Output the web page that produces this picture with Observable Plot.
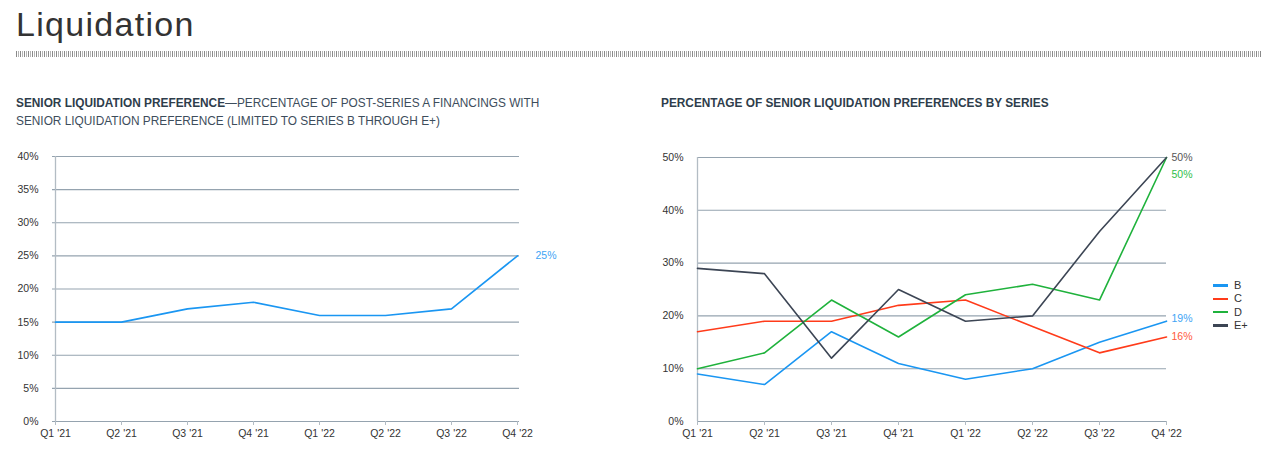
<!DOCTYPE html>
<html>
<head>
<meta charset="utf-8">
<script src="https://cdn.jsdelivr.net/npm/d3@7"></script>
<script src="https://cdn.jsdelivr.net/npm/@observablehq/plot@0.6"></script>
<style>
  body { margin: 0; background: #fff; font-family: "Liberation Sans", Arial, Helvetica, sans-serif; }
  #page { position: relative; width: 1280px; height: 476px; overflow: hidden; }
  #title { position: absolute; left: 16px; top: 5px; font-size: 34px; letter-spacing: 1.3px; color: #333; font-weight: 400; }
  #rule { position: absolute; left: 16px; top: 51px; width: 1246px; height: 6px;
          background: repeating-linear-gradient(90deg, #8a8a8a 0 1px, #fff 1px 2px, #b5b5b5 2px 3px, #fff 3px 4px); }
  .sub { position: absolute; font-size: 11.85px; color: #3d4d5c; line-height: 18px; }
  .sub b { font-weight: 700; color: #2e3d4b; }
  #sub1 { left: 16px; top: 94px; }
  #sub2 { left: 661px; top: 94px; }
  #c1 { position: absolute; left: 0; top: 140px; }
  #c2 { position: absolute; left: 640px; top: 140px; }
  #legend { position: absolute; left: 1213px; top: 279px; font-size: 11px; color: #333; }
  #legend div { height: 13.3px; line-height: 13.3px; display: flex; align-items: center; }
  #legend span.sw { display: inline-block; width: 15px; height: 2.5px; margin-right: 6px; }
</style>
</head>
<body>
<div id="page">
  <div id="title">Liquidation</div>
  <div id="rule"></div>
  <div class="sub" id="sub1"><b>SENIOR LIQUIDATION PREFERENCE</b>—PERCENTAGE OF POST-SERIES A FINANCINGS WITH<br>SENIOR LIQUIDATION PREFERENCE (LIMITED TO SERIES B THROUGH E+)</div>
  <div class="sub" id="sub2"><b>PERCENTAGE OF SENIOR LIQUIDATION PREFERENCES BY SERIES</b></div>
  <div id="c1"></div>
  <div id="c2"></div>
  <div id="legend"></div>
</div>
<script>
const quarters = ["Q1 '21", "Q2 '21", "Q3 '21", "Q4 '21", "Q1 '22", "Q2 '22", "Q3 '22", "Q4 '22"];
const seniorPct = [15, 15, 17, 18, 16, 16, 17, 25];
const seriesNames = ["B", "C", "D", "E+"];
const seriesB = [9, 7, 17, 11, 8, 10, 15, 19];
const seriesC = [17, 19, 19, 22, 23, 18, 13, 16];
const seriesD = [10, 13, 23, 16, 24, 26, 23, 50];
const seriesE = [29, 28, 12, 25, 19, 20, 36, 50];
const seriesColors = ["#1a96f2", "#ff3b1a", "#1fb23c", "#3c4554"];
const leftTicks = [0, 5, 10, 15, 20, 25, 30, 35, 40];
const rightTicks = [0, 10, 20, 30, 40, 50];

const gridColor = "#95a3af";
const axisColor = "#b3bcc4";
const font = "Liberation Sans, Arial, Helvetica, sans-serif";

const leftData = quarters.map((q, i) => ({q, v: seniorPct[i]}));
const seriesValues = [seriesB, seriesC, seriesD, seriesE];
const rightData = seriesNames.flatMap((s, k) => quarters.map((q, i) => ({q, s, v: seriesValues[k][i]})));

function baseMarks(ticks) {
  return [
    Plot.ruleY(ticks, {stroke: gridColor, strokeWidth: 1.1}),
    Plot.ruleX([quarters[0]], {stroke: axisColor, strokeWidth: 1.3}),
    Plot.axisY(ticks, {tickSize: 0, tickPadding: 14, tickFormat: d => d + "%", fontSize: 10.5, fill: "#333"}),
    Plot.axisX({tickSize: 4, stroke: axisColor, tickPadding: 4, fontSize: 10.5, fill: "#333"})
  ];
}

const left = Plot.plot({
  width: 580, height: 320,
  marginLeft: 52, marginRight: 61, marginTop: 16, marginBottom: 39,
  style: {fontFamily: font, background: "transparent"},
  x: {type: "point", domain: quarters, padding: 0, label: null},
  y: {domain: [0, 40], label: null},
  marks: [
    ...baseMarks(leftTicks),
    Plot.line(leftData, {x: "q", y: "v", stroke: seriesColors[0], strokeWidth: 1.6}),
    Plot.text(leftData.slice(-1), {x: "q", y: "v", text: d => d.v + "%", dx: 18, textAnchor: "start", fill: "#3ea4f5", fontSize: 10.5})
  ]
});
document.getElementById("c1").append(left);

const lastOf = s => rightData.filter(d => d.s === s).slice(-1);
const right = Plot.plot({
  width: 640, height: 320,
  marginLeft: 57, marginRight: 114, marginTop: 17, marginBottom: 39,
  style: {fontFamily: font, background: "transparent"},
  x: {type: "point", domain: quarters, padding: 0, label: null},
  y: {domain: [0, 50], label: null},
  color: {domain: seriesNames, range: seriesColors},
  marks: [
    ...baseMarks(rightTicks),
    Plot.line(rightData, {x: "q", y: "v", z: "s", stroke: "s", strokeWidth: 1.6}),
    Plot.text(lastOf("E+"), {x: "q", y: "v", text: d => d.v + "%", dx: 5, textAnchor: "start", fill: "#555", fontSize: 10.5}),
    Plot.text(lastOf("D"), {x: "q", y: "v", text: d => d.v + "%", dx: 5, dy: 17, textAnchor: "start", fill: "#2fc04a", fontSize: 10.5}),
    Plot.text(lastOf("B"), {x: "q", y: "v", text: d => d.v + "%", dx: 5, dy: -3, textAnchor: "start", fill: "#3ea4f5", fontSize: 10.5}),
    Plot.text(lastOf("C"), {x: "q", y: "v", text: d => d.v + "%", dx: 5, dy: 0, textAnchor: "start", fill: "#ff5a3c", fontSize: 10.5})
  ]
});
document.getElementById("c2").append(right);

const legend = document.getElementById("legend");
seriesNames.forEach((s, i) => {
  const row = document.createElement("div");
  row.innerHTML = `<span class="sw" style="background:${seriesColors[i]}"></span>${s}`;
  legend.append(row);
});
</script>
</body>
</html>
